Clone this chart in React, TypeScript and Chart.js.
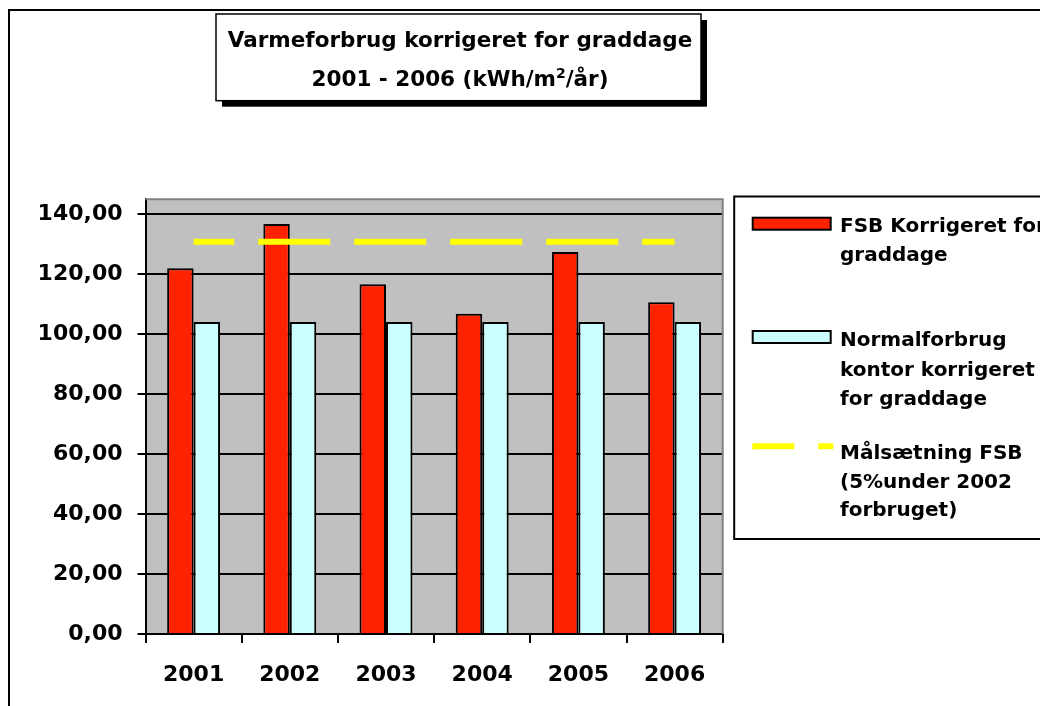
import React, { useEffect, useRef } from 'react';
import { Chart, registerables } from 'chart.js';

Chart.register(...registerables);

const categories = ['2001', '2002', '2003', '2004', '2005', '2006'];
const fsbValues = [122.0, 136.8, 116.7, 106.8, 127.4, 110.7];
const normalValues = [104.1, 104.1, 104.1, 104.1, 104.1, 104.1];
const targetValues = [130.8, 130.8, 130.8, 130.8, 130.8, 130.8];
const yTicks = [0, 20, 40, 60, 80, 100, 120, 140];
const yMax = 145;

const seriesLabels = [
  ['FSB Korrigeret for', 'graddage'],
  ['Normalforbrug', 'kontor korrigeret', 'for graddage'],
  ['Målsætning FSB', '(5%under 2002', 'forbruget)'],
];
const titleLine1 = 'Varmeforbrug korrigeret for graddage';
const titleLine2 = ['2001 - 2006 (kWh/m', '2', '/år)'];

const FONT = '"DejaVu Sans", "Liberation Sans", Arial, sans-serif';

const RED = '#FF2200';
const CYAN = '#CCFFFF';
const YELLOW = '#FFFF00';

const W = 1032;
const H = 698;

const backgroundPlugin = {
  id: 'bgPlugin',
  beforeDraw(chart: any) {
    const { ctx, chartArea } = chart;
    ctx.save();
    ctx.fillStyle = '#ffffff';
    ctx.fillRect(0, 0, chart.width, chart.height);
    ctx.fillStyle = '#C0C0C0';
    ctx.fillRect(chartArea.left, chartArea.top, chartArea.right - chartArea.left, chartArea.bottom - chartArea.top);
    ctx.restore();
  },
  afterDatasetsDraw(chart: any) {
    const { ctx, chartArea } = chart;
    ctx.save();
    ctx.strokeStyle = '#808080';
    ctx.lineWidth = 2;
    ctx.beginPath();
    ctx.moveTo(chartArea.left, chartArea.top);
    ctx.lineTo(chartArea.right, chartArea.top);
    ctx.lineTo(chartArea.right, chartArea.bottom);
    ctx.stroke();
    ctx.restore();
  },
  afterDraw(chart: any) {
    const { ctx } = chart;
    ctx.save();
    // outer chart border (only left/top visible)
    ctx.strokeStyle = '#000';
    ctx.lineWidth = 2;
    ctx.beginPath();
    ctx.moveTo(1, chart.height + 10);
    ctx.lineTo(1, 2);
    ctx.lineTo(chart.width + 10, 2);
    ctx.stroke();

    // title box with shadow
    const bx = 208, by = 6, bw = 485, bh = 86.7;
    ctx.fillStyle = '#000';
    ctx.fillRect(bx + 6, by + 6, bw, bh);
    ctx.fillStyle = '#fff';
    ctx.fillRect(bx, by, bw, bh);
    ctx.lineWidth = 1.5;
    ctx.strokeStyle = '#000';
    ctx.strokeRect(bx, by, bw, bh);

    const cx = 452;
    ctx.fillStyle = '#000';
    ctx.textBaseline = 'alphabetic';
    ctx.textAlign = 'center';
    ctx.font = `bold 21.5px ${FONT}`;
    ctx.fillText(titleLine1, cx, 39.3);

    ctx.textAlign = 'left';
    const mainFont = `bold 21.5px ${FONT}`;
    const supFont = `bold 14px ${FONT}`;
    ctx.font = mainFont;
    const w0 = ctx.measureText(titleLine2[0]).width;
    const w2 = ctx.measureText(titleLine2[2]).width;
    ctx.font = supFont;
    const w1 = ctx.measureText(titleLine2[1]).width;
    let x = cx - (w0 + w1 + w2) / 2;
    ctx.font = mainFont;
    ctx.fillText(titleLine2[0], x, 78);
    x += w0;
    ctx.font = supFont;
    ctx.fillText(titleLine2[1], x, 70.3);
    x += w1;
    ctx.font = mainFont;
    ctx.fillText(titleLine2[2], x, 78);

    // legend box (right side runs off the canvas)
    ctx.lineWidth = 2;
    ctx.strokeStyle = '#000';
    ctx.beginPath();
    ctx.moveTo(chart.width + 10, 188.5);
    ctx.lineTo(726.2, 188.5);
    ctx.lineTo(726.2, 531);
    ctx.lineTo(chart.width + 10, 531);
    ctx.stroke();

    const ds = chart.data.datasets;
    // item 1: red swatch
    ctx.fillStyle = ds[0].backgroundColor;
    ctx.fillRect(744.7, 209.7, 78, 12);
    ctx.strokeRect(744.7, 209.7, 78, 12);
    // item 2: cyan swatch
    ctx.fillStyle = ds[1].backgroundColor;
    ctx.fillRect(744.7, 323, 78, 12);
    ctx.strokeRect(744.7, 323, 78, 12);
    // item 3: dashed yellow
    ctx.save();
    ctx.strokeStyle = ds[2].borderColor;
    ctx.lineWidth = 6;
    ctx.setLineDash([42, 24]);
    ctx.beginPath();
    ctx.moveTo(744.3, 438.3);
    ctx.lineTo(825.3, 438.3);
    ctx.stroke();
    ctx.restore();

    ctx.fillStyle = '#000';
    ctx.font = `bold 20px ${FONT}`;
    ctx.textAlign = 'left';
    const baselines = [
      [224, 253],
      [338, 368, 397],
      [451, 480, 508],
    ];
    seriesLabels.forEach((lines, i) => {
      lines.forEach((t, j) => ctx.fillText(t, 832, baselines[i][j]));
    });
    ctx.restore();
  },
};

export default function App() {
  const ref = useRef<HTMLCanvasElement | null>(null);

  useEffect(() => {
    if (!ref.current) return;
    const chart = new Chart(ref.current, {
      type: 'bar',
      data: {
        labels: categories,
        datasets: [
          {
            type: 'bar',
            label: seriesLabels[0].join(' '),
            data: fsbValues,
            backgroundColor: RED,
            borderColor: '#000',
            borderWidth: 2,
            categoryPercentage: 0.55,
            barPercentage: 1,
            order: 1,
          },
          {
            type: 'bar',
            label: seriesLabels[1].join(' '),
            data: normalValues,
            backgroundColor: CYAN,
            borderColor: '#000',
            borderWidth: 2,
            categoryPercentage: 0.55,
            barPercentage: 1,
            order: 2,
          },
          {
            type: 'line',
            label: seriesLabels[2].join(' '),
            data: targetValues,
            borderColor: YELLOW,
            backgroundColor: YELLOW,
            borderWidth: 6,
            borderDash: [72, 24],
            borderDashOffset: 31.4,
            borderCapStyle: 'butt',
            pointRadius: 0,
            fill: false,
            tension: 0,
            order: 0,
          } as any,
        ],
      },
      options: {
        animation: false,
        responsive: false,
        devicePixelRatio: 1,
        events: [],
        layout: { padding: { left: 0, right: 317.3, top: 191.3, bottom: 0 } },
        plugins: {
          legend: { display: false },
          title: { display: false },
          tooltip: { enabled: false },
        },
        scales: {
          x: {
            type: 'category',
            offset: true,
            grid: {
              offset: true,
              drawOnChartArea: false,
              drawTicks: true,
              tickLength: 9,
              color: '#000',
              lineWidth: 2,
            },
            border: { display: true, color: '#000', width: 2 },
            ticks: {
              color: '#000',
              padding: 19,
              font: { family: FONT, weight: 'bold', size: 22 },
              maxRotation: 0,
              autoSkip: false,
            },
            afterFit(scale: any) {
              scale.height = 72;
            },
          },
          y: {
            type: 'linear',
            min: 0,
            max: yMax,
            afterBuildTicks(scale: any) {
              scale.ticks = yTicks.map((v) => ({ value: v }));
            },
            afterFit(scale: any) {
              scale.width = 137.5;
            },
            grid: {
              color: '#000',
              lineWidth: 2,
              drawTicks: true,
              tickLength: 8,
            },
            border: { display: true, color: '#000', width: 2 },
            ticks: {
              color: '#000',
              padding: 15,
              font: { family: FONT, weight: 'bold', size: 22 },
              callback: (v: any) => Number(v).toFixed(2).replace('.', ','),
            },
          },
        },
      },
      plugins: [backgroundPlugin],
    } as any);
    return () => chart.destroy();
  }, []);

  return (
    <div style={{ position: 'absolute', left: 8, top: 8, width: W, height: H, overflow: 'hidden' }}>
      <canvas ref={ref} width={W} height={H} style={{ display: 'block', width: W, height: H }} />
    </div>
  );
}
